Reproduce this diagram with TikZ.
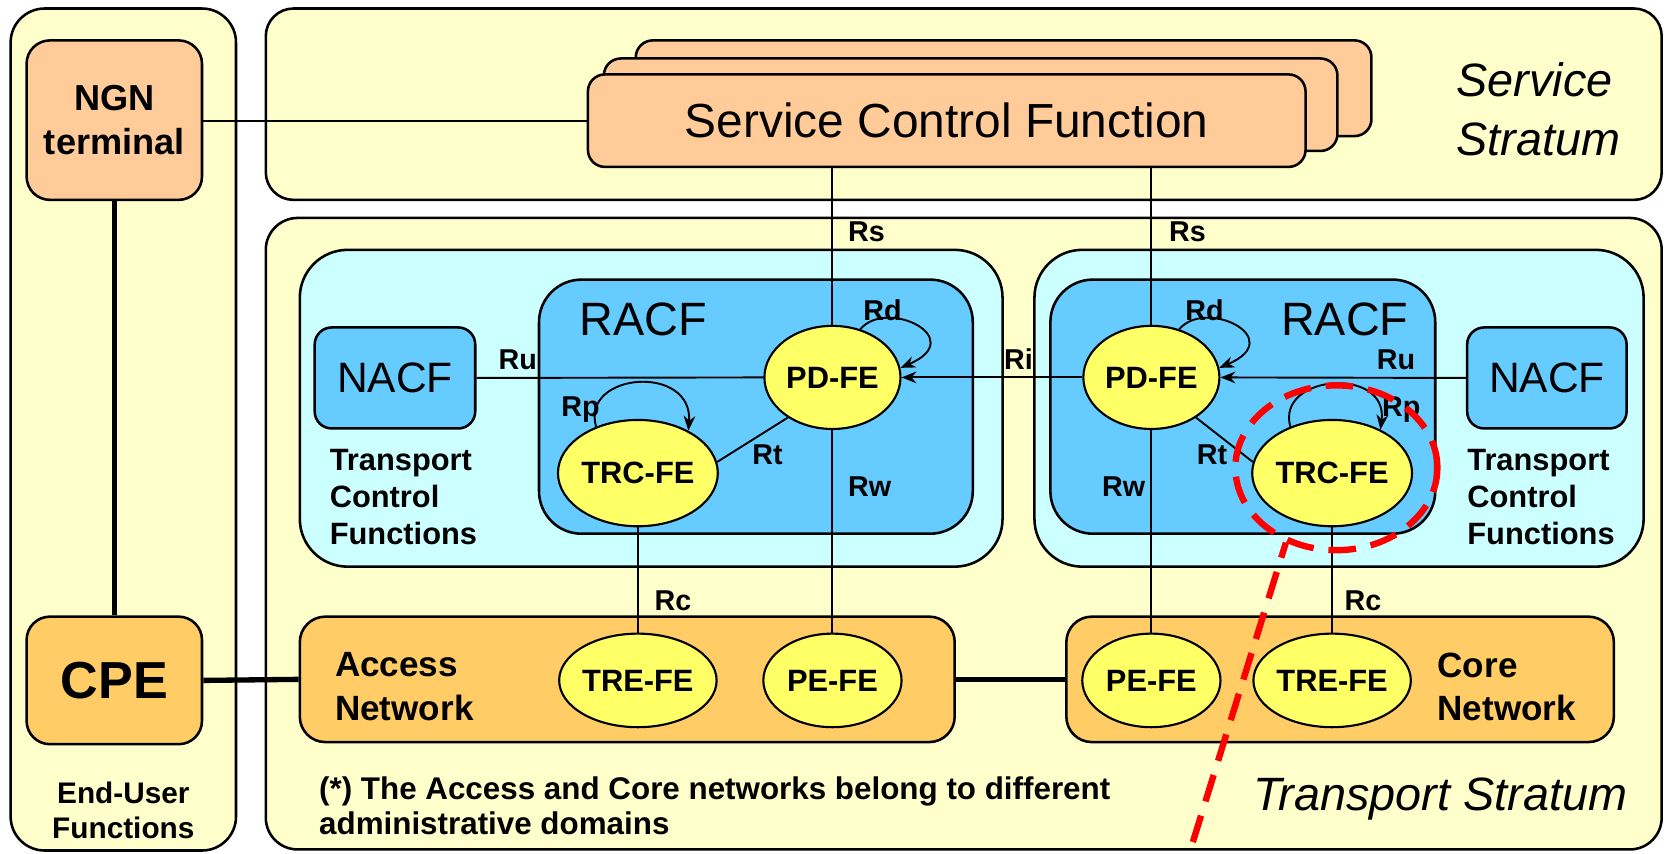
\documentclass[tikz,border=0pt]{standalone}
\usepackage{fontspec}
\setmainfont{Liberation Sans}
\usetikzlibrary{shapes.geometric,arrows.meta}
\definecolor{paleyellow}{HTML}{FFFFCC}
\definecolor{peach}{HTML}{FFCC99}
\definecolor{amber}{HTML}{FFCC66}
\definecolor{palecyan}{HTML}{CCFFFF}
\definecolor{skyblue}{HTML}{66CCFF}
\definecolor{lemon}{HTML}{FFFF66}
\definecolor{alertred}{HTML}{FF0000}
\newcommand\fsz[2]{\fontsize{#1}{#2}\selectfont}

\begin{document}
\begin{tikzpicture}[x=1pt,y=-1pt,
  box/.style={draw, line width=2.4pt, rectangle, inner sep=0pt},
  fe/.style={draw, line width=2pt, ellipse, fill=lemon, inner sep=0pt,
    font=\bfseries\fsz{29}{34}},
  link/.style={line width=1.8pt},
  heavylink/.style={line width=5pt},
  arr/.style={link, -{Stealth[length=14pt,width=11pt]}},
  lbl/.style={font=\bfseries\fsz{27}{30}, inner sep=0pt},
  bold/.style={font=\bfseries\fsz{29}{35}, inner sep=0pt, align=left},
  big/.style={font=\fsz{44}{55}, inner sep=0pt},
  bigit/.style={font=\itshape\fsz{44}{55}, inner sep=0pt},
  marker/.style={draw=alertred, line width=6pt, dash pattern=on 26pt off 14pt}
]
\useasboundingbox (0,0) rectangle (1568,803);

% ---- outer regions
\node[box, fill=paleyellow, rounded corners=32pt, minimum width=212pt, minimum height=792pt] (eu) at (116,404) {};
\node[box, fill=paleyellow, rounded corners=26pt, minimum width=1313pt, minimum height=180pt] (ss) at (906.5,98) {};
\node[box, fill=paleyellow, rounded corners=30pt, minimum width=1313pt, minimum height=594pt] (ts) at (906.5,502) {};

% ---- end-user side
\node[box, fill=peach, rounded corners=22pt, minimum width=165pt, minimum height=150pt,
      font=\bfseries\fsz{34}{42}, align=center] (ngn) at (107.5,113) {NGN\\terminal};
\node[box, fill=amber, rounded corners=22pt, minimum width=165pt, minimum height=120pt,
      font=\bfseries\fsz{49}{55}] (cpe) at (107.5,640) {CPE};
\node[font=\bfseries\fsz{28}{33}, align=center, inner sep=0pt] (eulbl) at (116,762) {End-User\\Functions};

% ---- service control function (stacked)
\node[box, fill=peach, rounded corners=16pt, minimum width=692pt, minimum height=90pt] (scf3) at (944,83) {};
\node[box, fill=peach, rounded corners=16pt, minimum width=690pt, minimum height=87pt] (scf2) at (913,98.5) {};
\node[box, fill=peach, rounded corners=16pt, minimum width=675pt, minimum height=87pt,
      font=\fsz{45}{50}] (scf) at (890.5,113.5) {Service Control Function};
\node[bigit, align=left, anchor=west] (sslbl) at (1370,103) {Service\\Stratum};

% ---- transport control functions
\node[box, fill=palecyan, rounded corners=45pt, minimum width=661pt, minimum height=298pt] (tcfl) at (612.5,384) {};
\node[box, fill=palecyan, rounded corners=45pt, minimum width=573pt, minimum height=298pt] (tcfr) at (1259.5,384) {};
\node[box, fill=skyblue, rounded corners=40pt, minimum width=408pt, minimum height=239pt] (racfl) at (711,382.5) {};
\node[box, fill=skyblue, rounded corners=40pt, minimum width=362pt, minimum height=239pt] (racfr) at (1169,382.5) {};
\node[box, fill=skyblue, rounded corners=16pt, minimum width=151pt, minimum height=95pt,
      font=\fsz{40}{44}] (nacfl) at (371.5,355.5) {NACF};
\node[box, fill=skyblue, rounded corners=16pt, minimum width=150pt, minimum height=95pt,
      font=\fsz{40}{44}] (nacfr) at (1455,355.5) {NACF};
\node[big] (racflbl) at (605,300) {RACF};
\node[big] (racfrlbl) at (1265,300) {RACF};
\node[bold, anchor=north west] (tcfllbl) at (310,422) {Transport\\Control\\Functions};
\node[bold, anchor=north west] (tcfrlbl) at (1380,422) {Transport\\Control\\Functions};

% ---- transport networks
\node[box, fill=amber, rounded corners=24pt, minimum width=616pt, minimum height=118pt] (acc) at (590,639) {};
\node[box, fill=amber, rounded corners=24pt, minimum width=515pt, minimum height=118pt] (core) at (1260.5,639) {};
\node[font=\bfseries\fsz{33}{41}, align=left, inner sep=0pt, anchor=west] (acclbl) at (315,646) {Access\\Network};
\node[font=\bfseries\fsz{33}{41}, align=left, inner sep=0pt, anchor=west] (corelbl) at (1352,646) {Core\\Network};

% ---- functional entities
\node[fe, minimum width=128pt, minimum height=97pt] (pdl) at (783,355) {PD-FE};
\node[fe, minimum width=128pt, minimum height=97pt] (pdr) at (1083,355) {PD-FE};
\node[fe, minimum width=130pt, minimum height=100pt] (trcl) at (600,445) {TRC-FE};
\node[fe, minimum width=136pt, minimum height=100pt] (trcr) at (1253,445) {TRC-FE};
\node[fe, minimum width=130pt, minimum height=88pt] (trel) at (600,640) {TRE-FE};
\node[fe, minimum width=130pt, minimum height=88pt] (pel) at (783,640) {PE-FE};
\node[fe, minimum width=130pt, minimum height=88pt] (per) at (1083,640) {PE-FE};
\node[fe, minimum width=136pt, minimum height=88pt] (trer) at (1253,640) {TRE-FE};

% ---- reference points
\draw[link] (ngn.east |- scf.west) -- (scf.west);
\draw[heavylink] (ngn.south) -- (cpe.north);
\draw[heavylink] (cpe.east) -- (acc.west);
\draw[heavylink] (acc.east) -- (core.west);
\draw[link] (pdl |- scf.south) -- (pdl.north);
\draw[link] (pdr |- scf.south) -- (pdr.north);
\draw[link] (nacfl.east) -- (pdl.west);
\draw[arr] (nacfr.west) -- (pdr.east);
\draw[arr] (pdr.west) -- (pdl.east);
\draw[link] (pdl.222) -- (trcl.8);
\draw[link] (pdr.-42) -- (trcr.172);
\draw[link] (pdl.south) -- (pel.north);
\draw[link] (pdr.south) -- (per.north);
\draw[link] (trcl.south) -- (trel.north);
\draw[link] (trcr.south) -- (trer.north);
\draw[arr] (pdl.60) .. controls (834,280) and (912,318) .. (pdl.8);
\draw[arr] (pdr.60) .. controls (1134,280) and (1212,318) .. (pdr.8);
\draw[arr] (trcl.132) .. controls (546,350) and (652,342) .. (trcl.40);
\draw[arr] (trcr.132) .. controls (1200,352) and (1306,344) .. (trcr.42);

\node[lbl] (rs1) at (815,218) {Rs};
\node[lbl] (rs2) at (1117,218) {Rs};
\node[lbl] (rd1) at (830,292) {Rd};
\node[lbl] (rd2) at (1133,292) {Rd};
\node[lbl] (ru1) at (487,338) {Ru};
\node[lbl] (ru2) at (1313,338) {Ru};
\node[lbl] (ri) at (958,338) {Ri};
\node[lbl] (rp1) at (546,385) {Rp};
\node[lbl] (rp2) at (1318,385) {Rp};
\node[lbl] (rt1) at (722,428) {Rt};
\node[lbl] (rt2) at (1140,428) {Rt};
\node[lbl] (rw1) at (818,458) {Rw};
\node[lbl] (rw2) at (1057,458) {Rw};
\node[lbl] (rc1) at (633,565) {Rc};
\node[lbl] (rc2) at (1282,565) {Rc};

% ---- notes
\node[font=\bfseries\fsz{29.5}{33}, align=left, inner sep=0pt, anchor=north west] (note) at (300,730)
  {(*) The Access and Core networks belong to different\\administrative domains};
\node[bigit] (tslbl) at (1355,752) {Transport Stratum};

% ---- administrative boundary
\node[draw=alertred, line width=6pt, dash pattern=on 26pt off 14pt, ellipse,
      minimum width=190pt, minimum height=155pt, inner sep=0pt] (hl) at (1257,440) {};
\coordinate (bnd) at (1122,792);
\draw[marker] (bnd) -- (hl.236);
\end{tikzpicture}
\end{document}
